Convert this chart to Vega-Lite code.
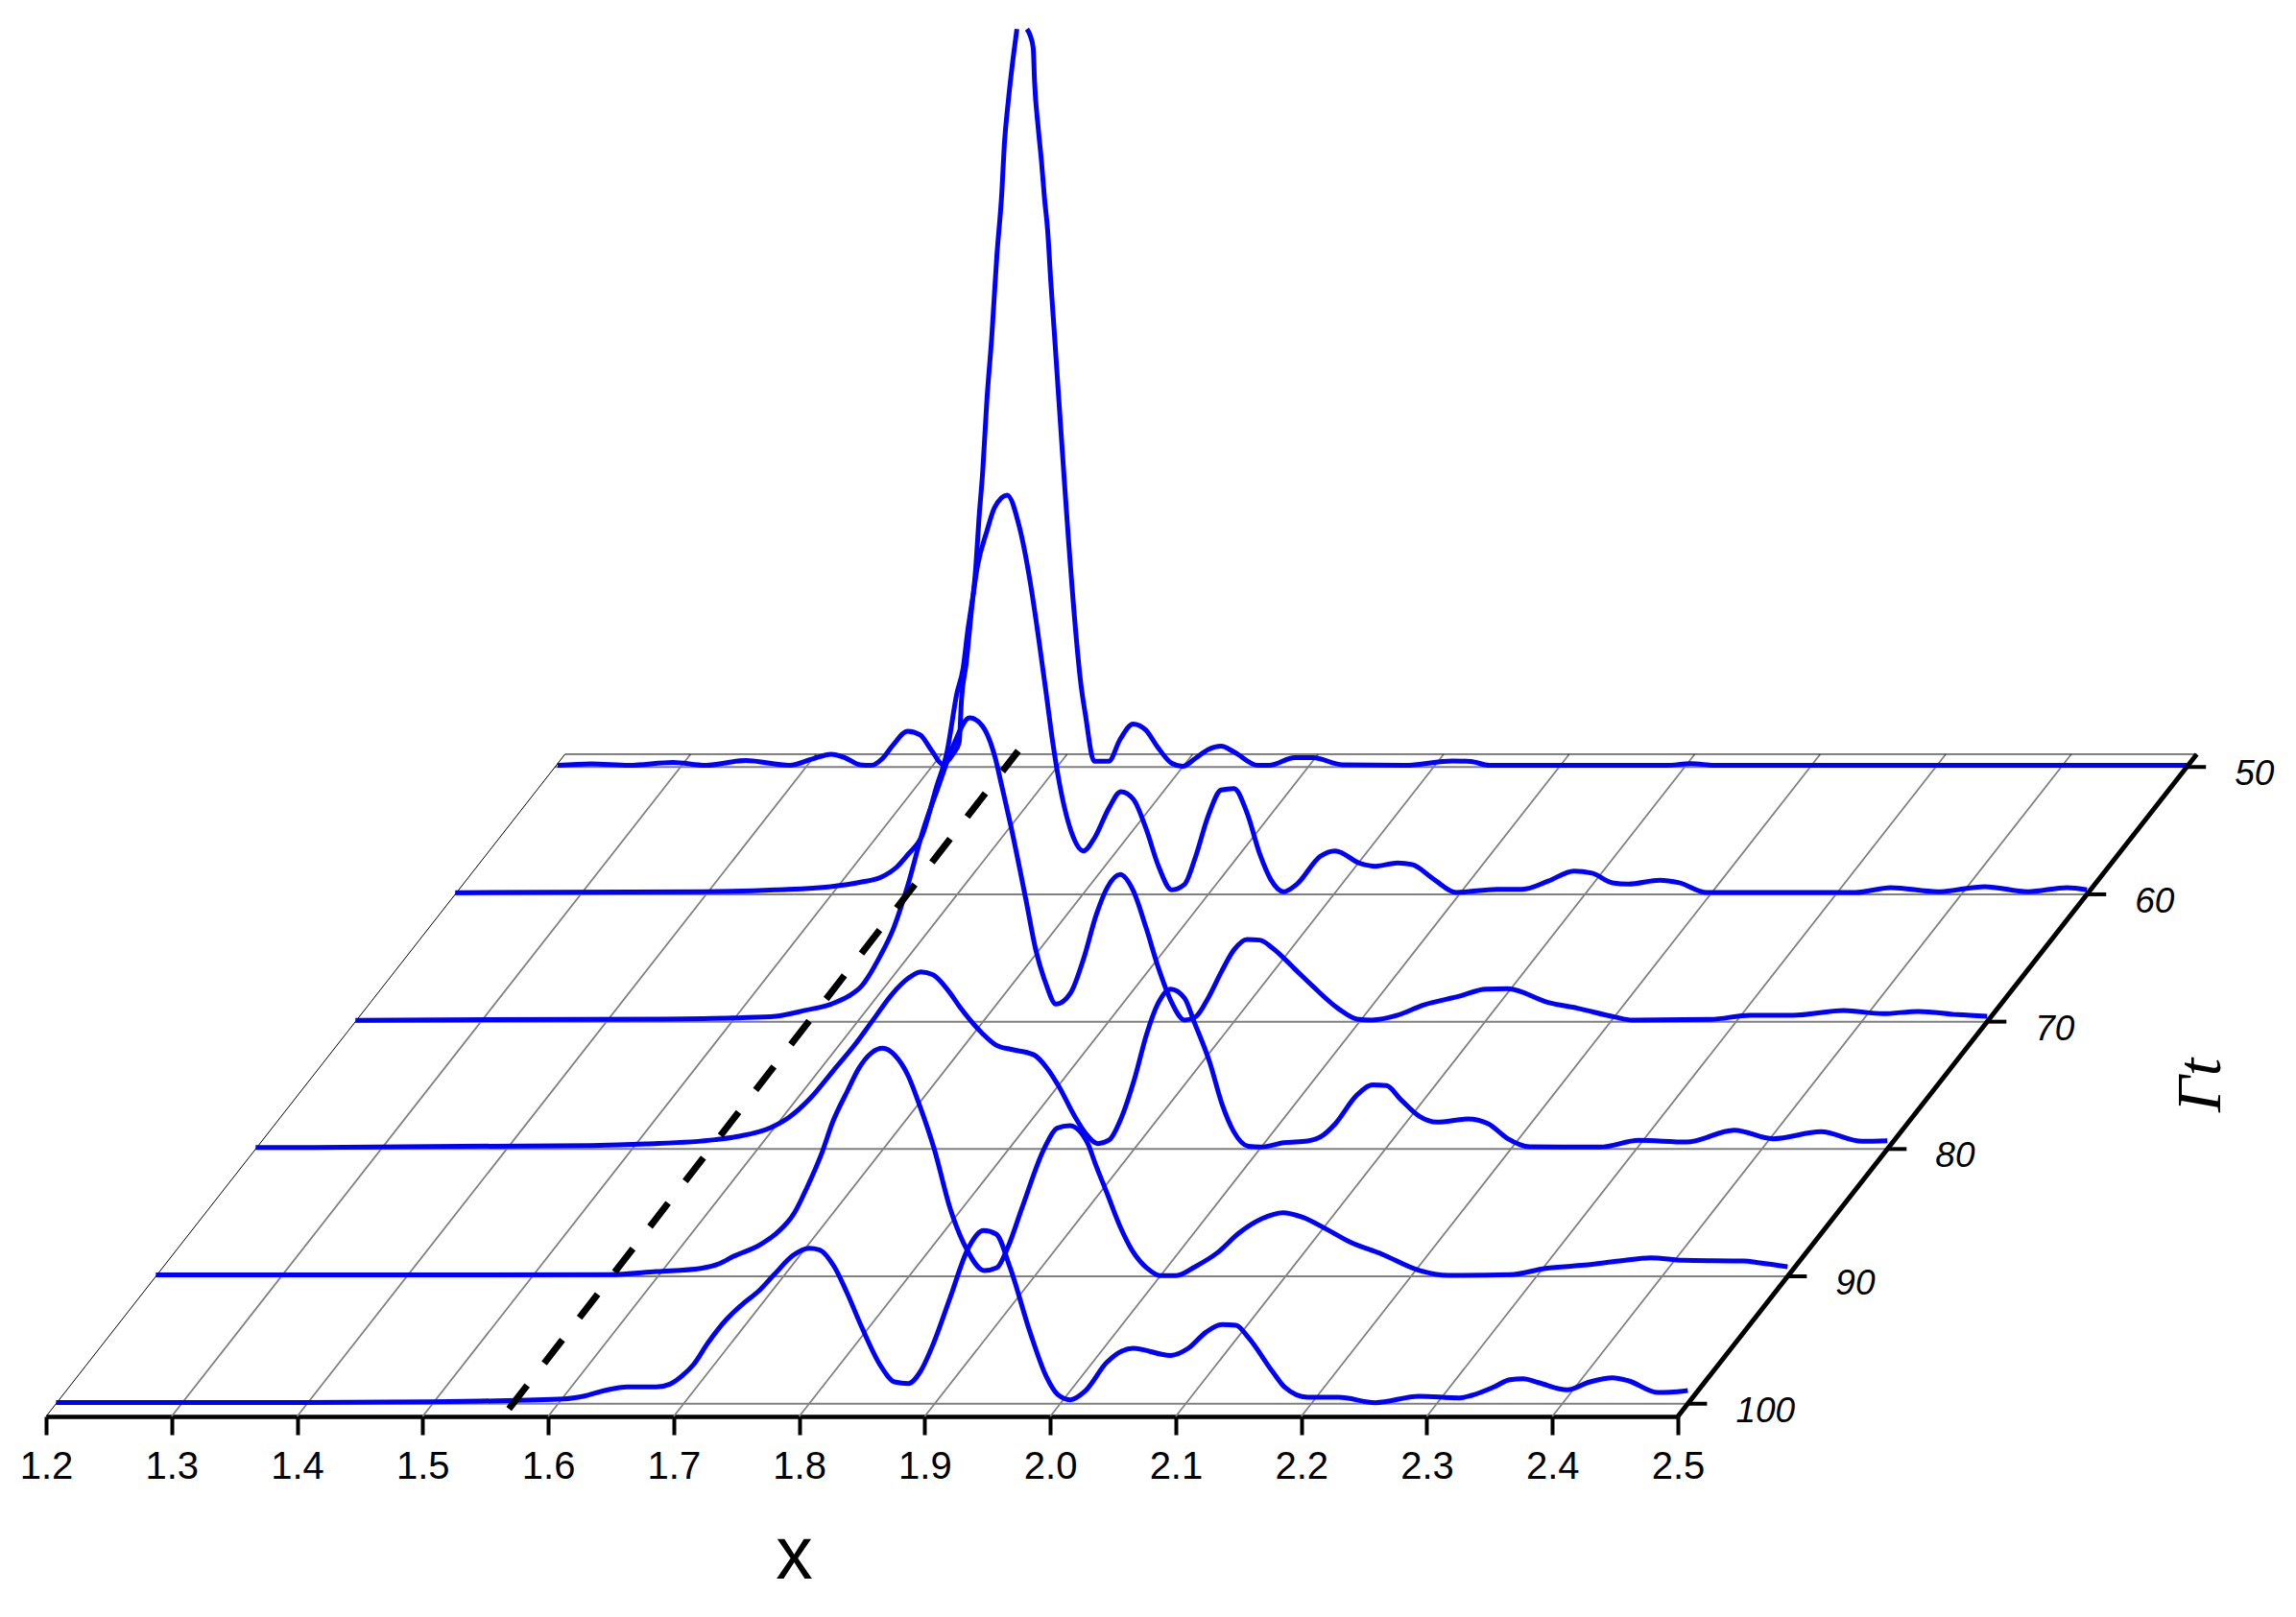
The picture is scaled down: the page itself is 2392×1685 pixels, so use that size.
{"$schema":"https://vega.github.io/schema/vega-lite/v6.json","width":1700,"height":1476,"autosize":"none","padding":{"left":48,"top":0,"right":644,"bottom":209},"background":"white","config":{"view":{"stroke":null}},
"datasets":{
"gridX":[{"x":1.3,"t":101},{"x":1.3,"t":49},{"x":1.4,"t":101},{"x":1.4,"t":49},{"x":1.5,"t":101},{"x":1.5,"t":49},{"x":1.6,"t":101},{"x":1.6,"t":49},{"x":1.7,"t":101},{"x":1.7,"t":49},{"x":1.8,"t":101},{"x":1.8,"t":49},{"x":1.9,"t":101},{"x":1.9,"t":49},{"x":2.0,"t":101},{"x":2.0,"t":49},{"x":2.1,"t":101},{"x":2.1,"t":49},{"x":2.2,"t":101},{"x":2.2,"t":49},{"x":2.3,"t":101},{"x":2.3,"t":49},{"x":2.4,"t":101},{"x":2.4,"t":49}],
"gridT":[{"x":1.2,"t":50},{"x":2.5,"t":50},{"x":1.2,"t":60},{"x":2.5,"t":60},{"x":1.2,"t":70},{"x":2.5,"t":70},{"x":1.2,"t":80},{"x":2.5,"t":80},{"x":1.2,"t":90},{"x":2.5,"t":90},{"x":1.2,"t":100},{"x":2.5,"t":100}],
"frame":[{"side":"left","x":1.2,"t":101},{"side":"left","x":1.2,"t":49},{"side":"back","x":1.2,"t":49},{"side":"back","x":2.5,"t":49}],
"tAxis":[{"x":2.5,"t":101},{"x":2.5,"t":49}],
"tTicks":[{"t":50,"label":"50"},{"t":60,"label":"60"},{"t":70,"label":"70"},{"t":80,"label":"80"},{"t":90,"label":"90"},{"t":100,"label":"100"}],
"ridge":[{"x":1.564,"t":100.4},{"x":1.559,"t":48.74}],
"minor":[{"x":1.225},{"x":1.25},{"x":1.275},{"x":1.325},{"x":1.35},{"x":1.375},{"x":1.425},{"x":1.45},{"x":1.475},{"x":1.525},{"x":1.55},{"x":1.575},{"x":1.625},{"x":1.65},{"x":1.675},{"x":1.725},{"x":1.75},{"x":1.775},{"x":1.825},{"x":1.85},{"x":1.875},{"x":1.925},{"x":1.95},{"x":1.975},{"x":2.025},{"x":2.05},{"x":2.075},{"x":2.125},{"x":2.15},{"x":2.175},{"x":2.225},{"x":2.25},{"x":2.275},{"x":2.325},{"x":2.35},{"x":2.375},{"x":2.425},{"x":2.45},{"x":2.475}],
"curves":[
{"curve":"100","t":100,"x":1.2,"v":0.012},{"curve":"100","t":100,"x":1.4,"v":0.012},{"curve":"100","t":100,"x":1.5,"v":0.02},{"curve":"100","t":100,"x":1.538,"v":0.027},{"curve":"100","t":100,"x":1.605,"v":0.05},{"curve":"100","t":100,"x":1.62,"v":0.077},{"curve":"100","t":100,"x":1.637,"v":0.137},{"curve":"100","t":100,"x":1.655,"v":0.174},{"curve":"100","t":100,"x":1.678,"v":0.174},{"curve":"100","t":100,"x":1.689,"v":0.204},{"curve":"100","t":100,"x":1.699,"v":0.294},{"curve":"100","t":100,"x":1.708,"v":0.41},{"curve":"100","t":100,"x":1.719,"v":0.627},{"curve":"100","t":100,"x":1.734,"v":0.877},{"curve":"100","t":100,"x":1.746,"v":1.027},{"curve":"100","t":100,"x":1.76,"v":1.177},{"curve":"100","t":100,"x":1.772,"v":1.344},{"curve":"100","t":100,"x":1.787,"v":1.544},{"curve":"100","t":100,"x":1.8,"v":1.62},{"curve":"100","t":100,"x":1.808,"v":1.604},{"curve":"100","t":100,"x":1.82,"v":1.427},{"curve":"100","t":100,"x":1.83,"v":1.16},{"curve":"100","t":100,"x":1.842,"v":0.794},{"curve":"100","t":100,"x":1.857,"v":0.394},{"curve":"100","t":100,"x":1.868,"v":0.227},{"curve":"100","t":100,"x":1.879,"v":0.21},{"curve":"100","t":100,"x":1.889,"v":0.344},{"curve":"100","t":100,"x":1.899,"v":0.627},{"curve":"100","t":100,"x":1.912,"v":1.094},{"curve":"100","t":100,"x":1.927,"v":1.627},{"curve":"100","t":100,"x":1.939,"v":1.804},{"curve":"100","t":100,"x":1.949,"v":1.767},{"curve":"100","t":100,"x":1.96,"v":1.42},{"curve":"100","t":100,"x":1.976,"v":0.744},{"curve":"100","t":100,"x":1.989,"v":0.281},{"curve":"100","t":100,"x":1.998,"v":0.096},{"curve":"100","t":100,"x":2.008,"v":0.041},{"curve":"100","t":100,"x":2.02,"v":0.133},{"curve":"100","t":100,"x":2.037,"v":0.429},{"curve":"100","t":100,"x":2.049,"v":0.548},{"curve":"100","t":100,"x":2.058,"v":0.577},{"curve":"100","t":100,"x":2.088,"v":0.503},{"curve":"100","t":100,"x":2.102,"v":0.577},{"curve":"100","t":100,"x":2.116,"v":0.744},{"curve":"100","t":100,"x":2.129,"v":0.825},{"curve":"100","t":100,"x":2.14,"v":0.818},{"curve":"100","t":100,"x":2.15,"v":0.688},{"curve":"100","t":100,"x":2.169,"v":0.337},{"curve":"100","t":100,"x":2.179,"v":0.17},{"curve":"100","t":100,"x":2.197,"v":0.067},{"curve":"100","t":100,"x":2.222,"v":0.067},{"curve":"100","t":100,"x":2.251,"v":0.011},{"curve":"100","t":100,"x":2.286,"v":0.078},{"curve":"100","t":100,"x":2.318,"v":0.06},{"curve":"100","t":100,"x":2.328,"v":0.087},{"curve":"100","t":100,"x":2.346,"v":0.177},{"curve":"100","t":100,"x":2.358,"v":0.25},{"curve":"100","t":100,"x":2.369,"v":0.26},{"curve":"100","t":100,"x":2.381,"v":0.22},{"curve":"100","t":100,"x":2.404,"v":0.144},{"curve":"100","t":100,"x":2.422,"v":0.227},{"curve":"100","t":100,"x":2.44,"v":0.27},{"curve":"100","t":100,"x":2.453,"v":0.237},{"curve":"100","t":100,"x":2.476,"v":0.117},{"curve":"100","t":100,"x":2.486,"v":0.12},{"curve":"100","t":100,"x":2.5,"v":0.137},
{"curve":"90","t":90,"x":1.2,"v":0.015},{"curve":"90","t":90,"x":1.561,"v":0.017},{"curve":"90","t":90,"x":1.599,"v":0.05},{"curve":"90","t":90,"x":1.634,"v":0.083},{"curve":"90","t":90,"x":1.649,"v":0.133},{"curve":"90","t":90,"x":1.66,"v":0.207},{"curve":"90","t":90,"x":1.681,"v":0.327},{"curve":"90","t":90,"x":1.693,"v":0.433},{"curve":"90","t":90,"x":1.709,"v":0.667},{"curve":"90","t":90,"x":1.719,"v":0.933},{"curve":"90","t":90,"x":1.731,"v":1.3},{"curve":"90","t":90,"x":1.739,"v":1.6},{"curve":"90","t":90,"x":1.751,"v":1.933},{"curve":"90","t":90,"x":1.76,"v":2.167},{"curve":"90","t":90,"x":1.77,"v":2.327},{"curve":"90","t":90,"x":1.779,"v":2.377},{"curve":"90","t":90,"x":1.789,"v":2.3},{"curve":"90","t":90,"x":1.799,"v":2.1},{"curve":"90","t":90,"x":1.808,"v":1.8},{"curve":"90","t":90,"x":1.82,"v":1.333},{"curve":"90","t":90,"x":1.833,"v":0.7},{"curve":"90","t":90,"x":1.846,"v":0.283},{"curve":"90","t":90,"x":1.86,"v":0.06},{"curve":"90","t":90,"x":1.87,"v":0.09},{"curve":"90","t":90,"x":1.879,"v":0.31},{"curve":"90","t":90,"x":1.89,"v":0.711},{"curve":"90","t":90,"x":1.908,"v":1.34},{"curve":"90","t":90,"x":1.918,"v":1.544},{"curve":"90","t":90,"x":1.928,"v":1.57},{"curve":"90","t":90,"x":1.942,"v":1.396},{"curve":"90","t":90,"x":1.949,"v":1.155},{"curve":"90","t":90,"x":1.958,"v":0.86},{"curve":"90","t":90,"x":1.968,"v":0.526},{"curve":"90","t":90,"x":1.978,"v":0.267},{"curve":"90","t":90,"x":1.99,"v":0.082},{"curve":"90","t":90,"x":2.0,"v":0.008},{"curve":"90","t":90,"x":2.013,"v":0.008},{"curve":"90","t":90,"x":2.028,"v":0.101},{"curve":"90","t":90,"x":2.046,"v":0.249},{"curve":"90","t":90,"x":2.063,"v":0.452},{"curve":"90","t":90,"x":2.081,"v":0.6},{"curve":"90","t":90,"x":2.098,"v":0.663},{"curve":"90","t":90,"x":2.113,"v":0.619},{"curve":"90","t":90,"x":2.133,"v":0.489},{"curve":"90","t":90,"x":2.151,"v":0.36},{"curve":"90","t":90,"x":2.177,"v":0.23},{"curve":"90","t":90,"x":2.206,"v":0.064},{"curve":"90","t":90,"x":2.23,"v":0.01},{"curve":"90","t":90,"x":2.279,"v":0.017},{"curve":"90","t":90,"x":2.307,"v":0.083},{"curve":"90","t":90,"x":2.338,"v":0.117},{"curve":"90","t":90,"x":2.366,"v":0.16},{"curve":"90","t":90,"x":2.391,"v":0.193},{"curve":"90","t":90,"x":2.417,"v":0.167},{"curve":"90","t":90,"x":2.465,"v":0.16},{"curve":"90","t":90,"x":2.478,"v":0.14},{"curve":"90","t":90,"x":2.5,"v":0.1},
{"curve":"80","t":80,"x":1.2,"v":0.015},{"curve":"80","t":80,"x":1.467,"v":0.037},{"curve":"80","t":80,"x":1.511,"v":0.053},{"curve":"80","t":80,"x":1.566,"v":0.097},{"curve":"80","t":80,"x":1.584,"v":0.13},{"curve":"80","t":80,"x":1.61,"v":0.22},{"curve":"80","t":80,"x":1.625,"v":0.33},{"curve":"80","t":80,"x":1.642,"v":0.53},{"curve":"80","t":80,"x":1.66,"v":0.813},{"curve":"80","t":80,"x":1.677,"v":1.08},{"curve":"80","t":80,"x":1.692,"v":1.347},{"curve":"80","t":80,"x":1.707,"v":1.613},{"curve":"80","t":80,"x":1.72,"v":1.78},{"curve":"80","t":80,"x":1.73,"v":1.847},{"curve":"80","t":80,"x":1.74,"v":1.813},{"curve":"80","t":80,"x":1.752,"v":1.647},{"curve":"80","t":80,"x":1.762,"v":1.463},{"curve":"80","t":80,"x":1.779,"v":1.204},{"curve":"80","t":80,"x":1.79,"v":1.082},{"curve":"80","t":80,"x":1.802,"v":1.038},{"curve":"80","t":80,"x":1.82,"v":0.982},{"curve":"80","t":80,"x":1.831,"v":0.834},{"curve":"80","t":80,"x":1.84,"v":0.65},{"curve":"80","t":80,"x":1.852,"v":0.353},{"curve":"80","t":80,"x":1.861,"v":0.168},{"curve":"80","t":80,"x":1.871,"v":0.057},{"curve":"80","t":80,"x":1.88,"v":0.094},{"curve":"80","t":80,"x":1.89,"v":0.335},{"curve":"80","t":80,"x":1.9,"v":0.723},{"curve":"80","t":80,"x":1.91,"v":1.204},{"curve":"80","t":80,"x":1.919,"v":1.519},{"curve":"80","t":80,"x":1.929,"v":1.667},{"curve":"80","t":80,"x":1.94,"v":1.574},{"curve":"80","t":80,"x":1.948,"v":1.315},{"curve":"80","t":80,"x":1.96,"v":0.908},{"curve":"80","t":80,"x":1.97,"v":0.464},{"curve":"80","t":80,"x":1.979,"v":0.187},{"curve":"80","t":80,"x":1.991,"v":0.028},{"curve":"80","t":80,"x":2.001,"v":0.02},{"curve":"80","t":80,"x":2.019,"v":0.065},{"curve":"80","t":80,"x":2.038,"v":0.083},{"curve":"80","t":80,"x":2.049,"v":0.131},{"curve":"80","t":80,"x":2.06,"v":0.261},{"curve":"80","t":80,"x":2.077,"v":0.557},{"curve":"80","t":80,"x":2.09,"v":0.668},{"curve":"80","t":80,"x":2.101,"v":0.66},{"curve":"80","t":80,"x":2.112,"v":0.52},{"curve":"80","t":80,"x":2.127,"v":0.342},{"curve":"80","t":80,"x":2.141,"v":0.28},{"curve":"80","t":80,"x":2.166,"v":0.313},{"curve":"80","t":80,"x":2.182,"v":0.263},{"curve":"80","t":80,"x":2.197,"v":0.113},{"curve":"80","t":80,"x":2.215,"v":0.023},{"curve":"80","t":80,"x":2.271,"v":0.02},{"curve":"80","t":80,"x":2.302,"v":0.09},{"curve":"80","t":80,"x":2.34,"v":0.073},{"curve":"80","t":80,"x":2.378,"v":0.197},{"curve":"80","t":80,"x":2.409,"v":0.107},{"curve":"80","t":80,"x":2.447,"v":0.18},{"curve":"80","t":80,"x":2.48,"v":0.08},{"curve":"80","t":80,"x":2.5,"v":0.087},
{"curve":"70","t":70,"x":1.2,"v":0.015},{"curve":"70","t":70,"x":1.447,"v":0.027},{"curve":"70","t":70,"x":1.505,"v":0.04},{"curve":"70","t":70,"x":1.535,"v":0.057},{"curve":"70","t":70,"x":1.558,"v":0.117},{"curve":"70","t":70,"x":1.579,"v":0.183},{"curve":"70","t":70,"x":1.593,"v":0.267},{"curve":"70","t":70,"x":1.603,"v":0.367},{"curve":"70","t":70,"x":1.618,"v":0.683},{"curve":"70","t":70,"x":1.628,"v":0.95},{"curve":"70","t":70,"x":1.64,"v":1.417},{"curve":"70","t":70,"x":1.652,"v":1.983},{"curve":"70","t":70,"x":1.665,"v":2.47},{"curve":"70","t":70,"x":1.6765,"v":2.883},{"curve":"70","t":70,"x":1.6893,"v":3.167},{"curve":"70","t":70,"x":1.6994,"v":3.083},{"curve":"70","t":70,"x":1.7097,"v":2.75},{"curve":"70","t":70,"x":1.7147,"v":2.47},{"curve":"70","t":70,"x":1.722,"v":2.05},{"curve":"70","t":70,"x":1.734,"v":1.283},{"curve":"70","t":70,"x":1.742,"v":0.75},{"curve":"70","t":70,"x":1.75,"v":0.4},{"curve":"70","t":70,"x":1.7581,"v":0.183},{"curve":"70","t":70,"x":1.7698,"v":0.3},{"curve":"70","t":70,"x":1.78,"v":0.65},{"curve":"70","t":70,"x":1.7903,"v":1.117},{"curve":"70","t":70,"x":1.7991,"v":1.4},{"curve":"70","t":70,"x":1.8093,"v":1.533},{"curve":"70","t":70,"x":1.8196,"v":1.367},{"curve":"70","t":70,"x":1.8298,"v":0.983},{"curve":"70","t":70,"x":1.84,"v":0.55},{"curve":"70","t":70,"x":1.8503,"v":0.2},{"curve":"70","t":70,"x":1.8606,"v":0.017},{"curve":"70","t":70,"x":1.8693,"v":0.05},{"curve":"70","t":70,"x":1.8795,"v":0.25},{"curve":"70","t":70,"x":1.8898,"v":0.517},{"curve":"70","t":70,"x":1.9,"v":0.75},{"curve":"70","t":70,"x":1.9103,"v":0.857},{"curve":"70","t":70,"x":1.9205,"v":0.85},{"curve":"70","t":70,"x":1.9307,"v":0.767},{"curve":"70","t":70,"x":1.9483,"v":0.55},{"curve":"70","t":70,"x":1.9629,"v":0.367},{"curve":"70","t":70,"x":1.9834,"v":0.133},{"curve":"70","t":70,"x":1.998,"v":0.027},{"curve":"70","t":70,"x":2.0097,"v":0.017},{"curve":"70","t":70,"x":2.0302,"v":0.067},{"curve":"70","t":70,"x":2.0507,"v":0.173},{"curve":"70","t":70,"x":2.08,"v":0.267},{"curve":"70","t":70,"x":2.1005,"v":0.34},{"curve":"70","t":70,"x":2.118,"v":0.343},{"curve":"70","t":70,"x":2.1502,"v":0.2},{"curve":"70","t":70,"x":2.1736,"v":0.14},{"curve":"70","t":70,"x":2.2029,"v":0.05},{"curve":"70","t":70,"x":2.2172,"v":0.017},{"curve":"70","t":70,"x":2.2796,"v":0.023},{"curve":"70","t":70,"x":2.3109,"v":0.067},{"curve":"70","t":70,"x":2.3452,"v":0.067},{"curve":"70","t":70,"x":2.3857,"v":0.117},{"curve":"70","t":70,"x":2.4169,"v":0.083},{"curve":"70","t":70,"x":2.4451,"v":0.107},{"curve":"70","t":70,"x":2.4763,"v":0.073},{"curve":"70","t":70,"x":2.5,"v":0.057},
{"curve":"60","t":60,"x":1.2,"v":0.017},{"curve":"60","t":60,"x":1.397,"v":0.027},{"curve":"60","t":60,"x":1.455,"v":0.047},{"curve":"60","t":60,"x":1.499,"v":0.08},{"curve":"60","t":60,"x":1.523,"v":0.127},{"curve":"60","t":60,"x":1.539,"v":0.177},{"curve":"60","t":60,"x":1.552,"v":0.287},{"curve":"60","t":60,"x":1.561,"v":0.42},{"curve":"60","t":60,"x":1.5722,"v":0.62},{"curve":"60","t":60,"x":1.583,"v":1.1},{"curve":"60","t":60,"x":1.5919,"v":1.49},{"curve":"60","t":60,"x":1.5996,"v":2.09},{"curve":"60","t":60,"x":1.6046,"v":2.353},{"curve":"60","t":60,"x":1.6084,"v":2.753},{"curve":"60","t":60,"x":1.6123,"v":3.09},{"curve":"60","t":60,"x":1.6161,"v":3.42},{"curve":"60","t":60,"x":1.6237,"v":3.79},{"curve":"60","t":60,"x":1.6296,"v":4.027},{"curve":"60","t":60,"x":1.6398,"v":4.16},{"curve":"60","t":60,"x":1.6493,"v":3.837},{"curve":"60","t":60,"x":1.6581,"v":3.253},{"curve":"60","t":60,"x":1.6646,"v":2.687},{"curve":"60","t":60,"x":1.6709,"v":2.087},{"curve":"60","t":60,"x":1.676,"v":1.587},{"curve":"60","t":60,"x":1.6805,"v":1.22},{"curve":"60","t":60,"x":1.6908,"v":0.653},{"curve":"60","t":60,"x":1.7005,"v":0.453},{"curve":"60","t":60,"x":1.7093,"v":0.587},{"curve":"60","t":60,"x":1.721,"v":0.903},{"curve":"60","t":60,"x":1.7303,"v":1.07},{"curve":"60","t":60,"x":1.7405,"v":0.987},{"curve":"60","t":60,"x":1.7503,"v":0.687},{"curve":"60","t":60,"x":1.7605,"v":0.287},{"curve":"60","t":60,"x":1.7708,"v":0.047},{"curve":"60","t":60,"x":1.781,"v":0.103},{"curve":"60","t":60,"x":1.7897,"v":0.387},{"curve":"60","t":60,"x":1.8,"v":0.82},{"curve":"60","t":60,"x":1.8102,"v":1.087},{"curve":"60","t":60,"x":1.8205,"v":1.103},{"curve":"60","t":60,"x":1.8307,"v":0.853},{"curve":"60","t":60,"x":1.841,"v":0.42},{"curve":"60","t":60,"x":1.8498,"v":0.153},{"curve":"60","t":60,"x":1.86,"v":0.027},{"curve":"60","t":60,"x":1.8703,"v":0.103},{"curve":"60","t":60,"x":1.8892,"v":0.397},{"curve":"60","t":60,"x":1.901,"v":0.453},{"curve":"60","t":60,"x":1.9214,"v":0.32},{"curve":"60","t":60,"x":1.9332,"v":0.293},{"curve":"60","t":60,"x":1.9507,"v":0.327},{"curve":"60","t":60,"x":1.9624,"v":0.31},{"curve":"60","t":60,"x":1.98,"v":0.153},{"curve":"60","t":60,"x":1.9975,"v":0.02},{"curve":"60","t":60,"x":2.0297,"v":0.053},{"curve":"60","t":60,"x":2.0502,"v":0.053},{"curve":"60","t":60,"x":2.0707,"v":0.137},{"curve":"60","t":60,"x":2.0912,"v":0.243},{"curve":"60","t":60,"x":2.1058,"v":0.22},{"curve":"60","t":60,"x":2.122,"v":0.12},{"curve":"60","t":60,"x":2.1346,"v":0.107},{"curve":"60","t":60,"x":2.1596,"v":0.147},{"curve":"60","t":60,"x":2.1752,"v":0.12},{"curve":"60","t":60,"x":2.197,"v":0.02},{"curve":"60","t":60,"x":2.2687,"v":0.02},{"curve":"60","t":60,"x":2.3155,"v":0.02},{"curve":"60","t":60,"x":2.3437,"v":0.07},{"curve":"60","t":60,"x":2.3811,"v":0.027},{"curve":"60","t":60,"x":2.4186,"v":0.08},{"curve":"60","t":60,"x":2.453,"v":0.027},{"curve":"60","t":60,"x":2.4842,"v":0.07},{"curve":"60","t":60,"x":2.5,"v":0.047},
{"curve":"50 rising","t":50,"x":1.202,"v":0.017},{"curve":"50 rising","t":50,"x":1.229,"v":0.033},{"curve":"50 rising","t":50,"x":1.259,"v":0.017},{"curve":"50 rising","t":50,"x":1.294,"v":0.047},{"curve":"50 rising","t":50,"x":1.32,"v":0.017},{"curve":"50 rising","t":50,"x":1.352,"v":0.067},{"curve":"50 rising","t":50,"x":1.387,"v":0.017},{"curve":"50 rising","t":50,"x":1.405,"v":0.083},{"curve":"50 rising","t":50,"x":1.42,"v":0.133},{"curve":"50 rising","t":50,"x":1.431,"v":0.097},{"curve":"50 rising","t":50,"x":1.443,"v":0.023},{"curve":"50 rising","t":50,"x":1.452,"v":0.017},{"curve":"50 rising","t":50,"x":1.461,"v":0.09},{"curve":"50 rising","t":50,"x":1.469,"v":0.223},{"curve":"50 rising","t":50,"x":1.481,"v":0.373},{"curve":"50 rising","t":50,"x":1.491,"v":0.333},{"curve":"50 rising","t":50,"x":1.5,"v":0.173},{"curve":"50 rising","t":50,"x":1.5088,"v":0.03},{"curve":"50 rising","t":50,"x":1.5174,"v":0.14},{"curve":"50 rising","t":50,"x":1.522,"v":0.257},{"curve":"50 rising","t":50,"x":1.5238,"v":0.69},{"curve":"50 rising","t":50,"x":1.5277,"v":1.09},{"curve":"50 rising","t":50,"x":1.5315,"v":1.59},{"curve":"50 rising","t":50,"x":1.5353,"v":2.09},{"curve":"50 rising","t":50,"x":1.5378,"v":2.59},{"curve":"50 rising","t":50,"x":1.5408,"v":3.09},{"curve":"50 rising","t":50,"x":1.544,"v":3.807},{"curve":"50 rising","t":50,"x":1.548,"v":4.49},{"curve":"50 rising","t":50,"x":1.552,"v":5.323},{"curve":"50 rising","t":50,"x":1.556,"v":5.99},{"curve":"50 rising","t":50,"x":1.558,"v":6.49},{"curve":"50 rising","t":50,"x":1.561,"v":6.923},{"curve":"50 rising","t":50,"x":1.565,"v":7.39},{"curve":"50 rising","t":50,"x":1.568,"v":7.69},
{"curve":"50 falling","t":50,"x":1.576,"v":7.69},{"curve":"50 falling","t":50,"x":1.579,"v":7.607},{"curve":"50 falling","t":50,"x":1.581,"v":7.49},{"curve":"50 falling","t":50,"x":1.582,"v":7.157},{"curve":"50 falling","t":50,"x":1.585,"v":6.657},{"curve":"50 falling","t":50,"x":1.5875,"v":6.323},{"curve":"50 falling","t":50,"x":1.59,"v":5.923},{"curve":"50 falling","t":50,"x":1.5925,"v":5.59},{"curve":"50 falling","t":50,"x":1.595,"v":5.057},{"curve":"50 falling","t":50,"x":1.598,"v":4.49},{"curve":"50 falling","t":50,"x":1.6015,"v":3.807},{"curve":"50 falling","t":50,"x":1.6197,"v":0.79},{"curve":"50 falling","t":50,"x":1.6224,"v":0.56},{"curve":"50 falling","t":50,"x":1.6296,"v":0.06},{"curve":"50 falling","t":50,"x":1.6411,"v":0.06},{"curve":"50 falling","t":50,"x":1.6503,"v":0.29},{"curve":"50 falling","t":50,"x":1.6605,"v":0.447},{"curve":"50 falling","t":50,"x":1.6708,"v":0.383},{"curve":"50 falling","t":50,"x":1.6793,"v":0.223},{"curve":"50 falling","t":50,"x":1.6912,"v":0.04},{"curve":"50 falling","t":50,"x":1.7,"v":0.007},{"curve":"50 falling","t":50,"x":1.7102,"v":0.09},{"curve":"50 falling","t":50,"x":1.7205,"v":0.183},{"curve":"50 falling","t":50,"x":1.7307,"v":0.217},{"curve":"50 falling","t":50,"x":1.7409,"v":0.157},{"curve":"50 falling","t":50,"x":1.76,"v":0.017},{"curve":"50 falling","t":50,"x":1.7688,"v":0.017},{"curve":"50 falling","t":50,"x":1.7893,"v":0.097},{"curve":"50 falling","t":50,"x":1.8039,"v":0.097},{"curve":"50 falling","t":50,"x":1.8273,"v":0.023},{"curve":"50 falling","t":50,"x":1.8771,"v":0.017},{"curve":"50 falling","t":50,"x":1.915,"v":0.063},{"curve":"50 falling","t":50,"x":1.9297,"v":0.057},{"curve":"50 falling","t":50,"x":1.9443,"v":0.017},{"curve":"50 falling","t":50,"x":2.085,"v":0.017},{"curve":"50 falling","t":50,"x":2.105,"v":0.035},{"curve":"50 falling","t":50,"x":2.125,"v":0.017},{"curve":"50 falling","t":50,"x":2.5,"v":0.017}
]},
"encoding":{
"x":{"field":"px","type":"quantitative","scale":{"domain":[1.2,2.5],"nice":false,"zero":false},"axis":{"title":"x","values":[1.2,1.3,1.4,1.5,1.6,1.7,1.8,1.9,2.0,2.1,2.2,2.3,2.4,2.5],"format":".1f","grid":false,"domainColor":"#000000","domainWidth":4.7,"tickColor":"#000000","tickWidth":4,"tickSize":19,"labelFont":"Liberation Sans","labelFontSize":40,"labelColor":"#000000","labelPadding":13,"labelOverlap":false,"labelFlush":false,"titleFont":"Liberation Sans","titleFontSize":77,"titleFontWeight":"normal","titleColor":"#000000","titleX":779,"titleY":168,"titleBaseline":"alphabetic","titleAlign":"center"}},
"y":{"field":"py","type":"quantitative","scale":{"domain":[0,14.76],"nice":false,"zero":false},"axis":null}},
"layer":[
{"data":{"name":"gridX"},"transform":[{"calculate":"datum.x+(101-datum.t)*0.00795","as":"px"},{"calculate":"(101-datum.t)*0.1327","as":"py"}],"mark":{"type":"line","stroke":"#808080","strokeWidth":1.8},"encoding":{"detail":{"field":"x"}}},
{"data":{"name":"gridT"},"transform":[{"calculate":"datum.x+(101-datum.t)*0.00795","as":"px"},{"calculate":"(101-datum.t)*0.1327","as":"py"}],"mark":{"type":"line","stroke":"#808080","strokeWidth":2},"encoding":{"detail":{"field":"t"}}},
{"data":{"name":"frame"},"transform":[{"calculate":"datum.x+(101-datum.t)*0.00795","as":"px"},{"calculate":"(101-datum.t)*0.1327","as":"py"}],"mark":{"type":"line","stroke":"#000000","strokeWidth":1},"encoding":{"detail":{"field":"side"}}},
{"data":{"name":"curves"},"transform":[{"calculate":"datum.x+(101-datum.t)*0.00795","as":"px"},{"calculate":"(101-datum.t)*0.1327+datum.v","as":"py"}],"mark":{"type":"line","stroke":"#0000ff","strokeWidth":5,"interpolate":"monotone","strokeJoin":"miter","strokeCap":"butt"},"encoding":{"detail":{"field":"curve"}}},
{"data":{"name":"ridge"},"transform":[{"calculate":"datum.x+(101-datum.t)*0.00795","as":"px"},{"calculate":"(101-datum.t)*0.1327","as":"py"}],"mark":{"type":"line","stroke":"#000000","strokeWidth":7,"strokeDash":[31,29]},"encoding":{}},
{"data":{"name":"tAxis"},"transform":[{"calculate":"datum.x+(101-datum.t)*0.00795","as":"px"},{"calculate":"(101-datum.t)*0.1327","as":"py"}],"mark":{"type":"line","stroke":"#000000","strokeWidth":5},"encoding":{}},
{"data":{"name":"tTicks"},"transform":[{"calculate":"2.5+(101-datum.t)*0.00795","as":"px"},{"calculate":"datum.px+0.0153","as":"px2"},{"calculate":"(101-datum.t)*0.1327","as":"py"}],"mark":{"type":"rule","stroke":"#000000","strokeWidth":4},"encoding":{"x2":{"field":"px2"}}},
{"data":{"name":"tTicks"},"transform":[{"calculate":"2.5+(101-datum.t)*0.00795","as":"px"},{"calculate":"(101-datum.t)*0.1327","as":"py"}],"mark":{"type":"text","align":"left","baseline":"middle","dx":50,"dy":8,"font":"Liberation Sans","fontStyle":"italic","fontSize":37,"fill":"#000000"},"encoding":{"text":{"field":"label"}}},
{"data":{"values":[{"title":"Γt","t":75}]},"transform":[{"calculate":"2.5+(101-datum.t)*0.00795","as":"px"},{"calculate":"(101-datum.t)*0.1327","as":"py"}],"mark":{"type":"text","align":"center","baseline":"middle","dx":0,"dy":275,"angle":270,"font":"Liberation Serif","fontStyle":"italic","fontSize":66,"fill":"#000000"},"encoding":{"text":{"field":"title"}}},
{"data":{"name":"minor"},"transform":[{"calculate":"datum.x","as":"px"}],"mark":{"type":"rule","stroke":"#000000","strokeWidth":4},"encoding":{"y":{"datum":0},"y2":{"datum":-0.11}}}
]}
